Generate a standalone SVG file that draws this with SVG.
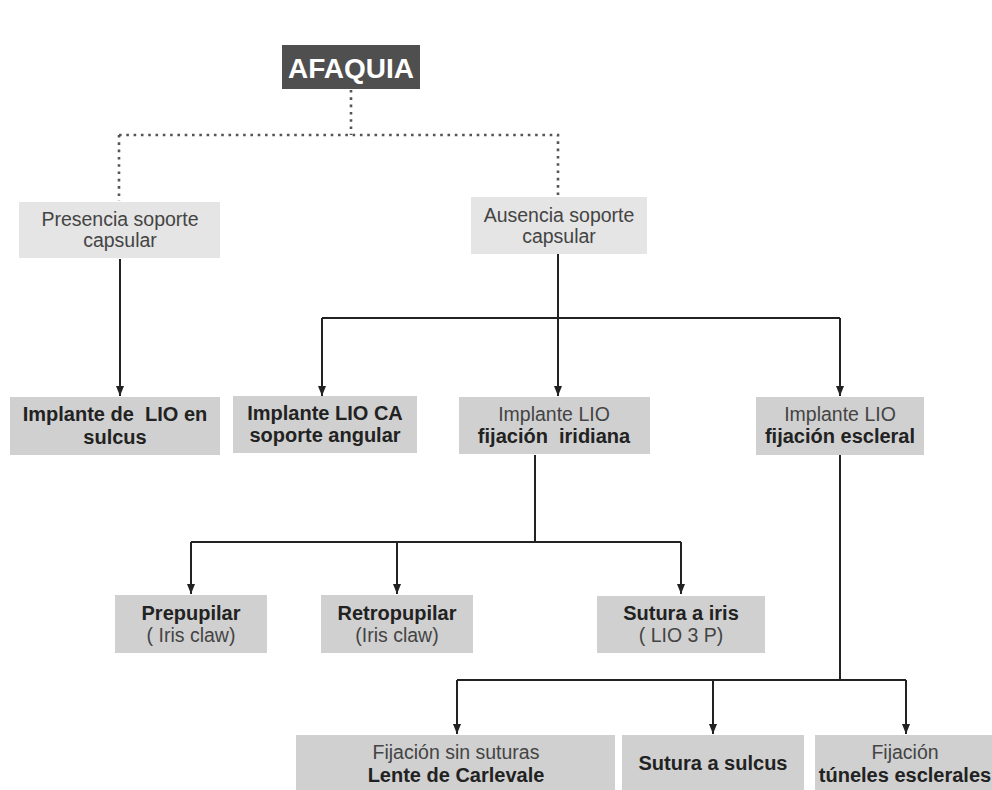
<svg xmlns="http://www.w3.org/2000/svg" width="992" height="790" viewBox="0 0 992 790">
<defs>
<style>
.t{font-family:"Liberation Sans",Arial,sans-serif;font-size:19.5px;text-anchor:middle}
.r{fill:#444}
.b{font-weight:bold;fill:#222;font-size:20px}
.pre{white-space:pre}
.light{fill:#e5e5e5}
.dark{fill:#d0d0d0}
.ln{fill:none;stroke:#222;stroke-width:2}
.dot{fill:none;stroke:#555;stroke-width:2.6;stroke-dasharray:2.6 4.7}
</style>
<marker id="ah" markerWidth="10" markerHeight="10" viewBox="0 0 10 10" refX="10" refY="5" orient="auto" markerUnits="userSpaceOnUse">
<path d="M0,1 L10,5 L0,9 Z" fill="#222"/>
</marker>
</defs>
<rect width="992" height="790" fill="#fff"/>
<g id="connectors">
<path class="dot" d="M351,90 V135"/>
<path class="dot" d="M119,135 H558 V197"/>
<path class="dot" d="M119,135 V201"/>
<path class="ln" d="M120,259 V396" marker-end="url(#ah)"/>
<path class="ln" d="M558,254 V318"/>
<path class="ln" d="M322,318 H840"/>
<path class="ln" d="M322,318 V396" marker-end="url(#ah)"/>
<path class="ln" d="M558,318 V396" marker-end="url(#ah)"/>
<path class="ln" d="M840,318 V396" marker-end="url(#ah)"/>
<path class="ln" d="M535,455 V542"/>
<path class="ln" d="M191,542 H681"/>
<path class="ln" d="M191,542 V594" marker-end="url(#ah)"/>
<path class="ln" d="M397,542 V594" marker-end="url(#ah)"/>
<path class="ln" d="M681,542 V594" marker-end="url(#ah)"/>
<path class="ln" d="M840,455 V680"/>
<path class="ln" d="M457,680 H906"/>
<path class="ln" d="M457,680 V734" marker-end="url(#ah)"/>
<path class="ln" d="M713,680 V734" marker-end="url(#ah)"/>
<path class="ln" d="M906,680 V734" marker-end="url(#ah)"/>
</g>
<g id="afaquia">
<rect x="282" y="45" width="138" height="44" fill="#4f4f4f"/>
<text class="t" x="351" y="78" style="font-size:28px;font-weight:bold;fill:#fff">AFAQUIA</text>
</g>
<g id="presencia">
<rect class="light" x="19" y="202" width="201" height="56"/>
<text class="t r" x="120" y="226">Presencia soporte</text>
<text class="t r" x="120" y="247">capsular</text>
</g>
<g id="ausencia">
<rect class="light" x="471" y="197" width="176" height="57"/>
<text class="t r" x="559" y="222">Ausencia soporte</text>
<text class="t r" x="559" y="243">capsular</text>
</g>
<g id="sulcus">
<rect class="dark" x="10" y="397" width="210" height="58"/>
<text class="t b pre" x="115" y="421">Implante de  LIO en</text>
<text class="t b" x="115" y="444">sulcus</text>
</g>
<g id="ca">
<rect class="dark" x="233" y="396" width="184" height="57"/>
<text class="t b" x="325" y="420">Implante LIO CA</text>
<text class="t b" x="325" y="442">soporte angular</text>
</g>
<g id="iridiana">
<rect class="dark" x="459" y="397" width="191" height="57"/>
<text class="t r" x="554" y="421">Implante LIO</text>
<text class="t b pre" x="554" y="443">fijación  iridiana</text>
</g>
<g id="escleral">
<rect class="dark" x="756" y="397" width="168" height="58"/>
<text class="t r" x="840" y="421">Implante LIO</text>
<text class="t b" x="840" y="443">fijación escleral</text>
</g>
<g id="prepupilar">
<rect class="dark" x="115" y="595" width="152" height="58"/>
<text class="t b" x="191" y="620">Prepupilar</text>
<text class="t r" x="191" y="642">( Iris claw)</text>
</g>
<g id="retropupilar">
<rect class="dark" x="321" y="595" width="152" height="58"/>
<text class="t b" x="397" y="620">Retropupilar</text>
<text class="t r" x="397" y="642">(Iris claw)</text>
</g>
<g id="sutura-iris">
<rect class="dark" x="597" y="596" width="168" height="57"/>
<text class="t b" x="681" y="620">Sutura a iris</text>
<text class="t r" x="681" y="642">( LIO 3 P)</text>
</g>
<g id="carlevale">
<rect class="dark" x="296" y="735" width="319" height="60"/>
<text class="t r" x="456" y="759">Fijación sin suturas</text>
<text class="t b" x="456" y="782">Lente de Carlevale</text>
</g>
<g id="sutura-sulcus">
<rect class="dark" x="622" y="735" width="182" height="60"/>
<text class="t b" x="713" y="770">Sutura a sulcus</text>
</g>
<g id="tuneles">
<rect class="dark" x="815" y="735" width="177" height="60"/>
<text class="t r" x="905" y="759">Fijación</text>
<text class="t b" x="905" y="782">túneles esclerales</text>
</g>
</svg>
